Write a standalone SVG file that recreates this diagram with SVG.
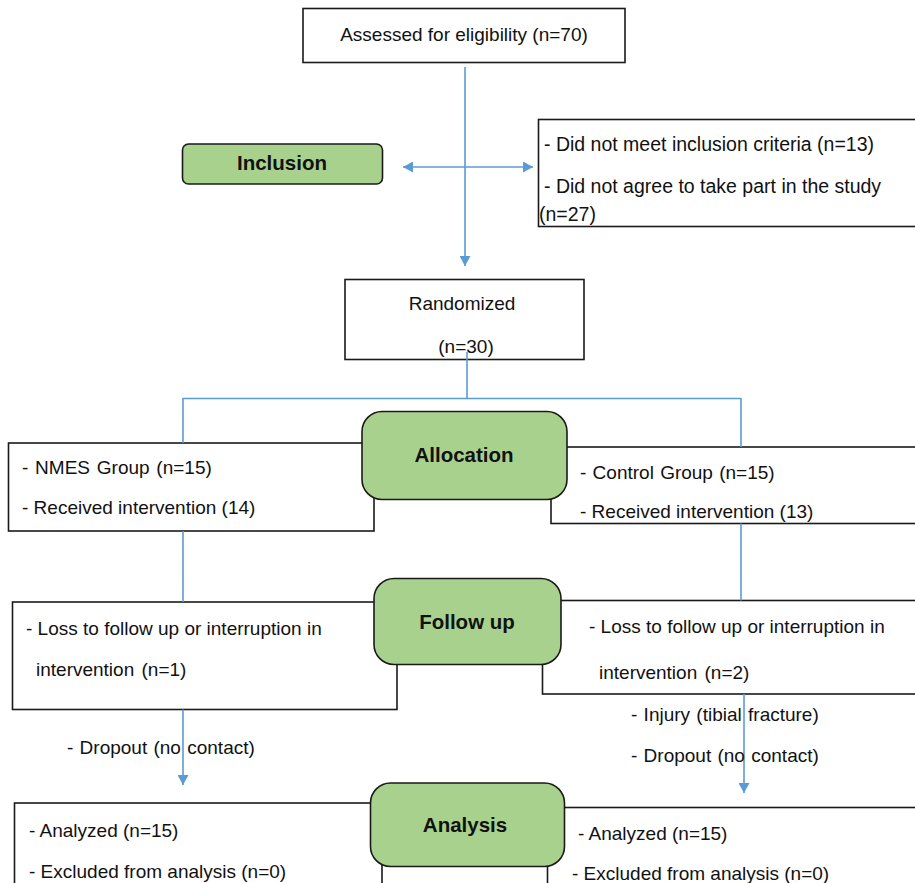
<svg xmlns="http://www.w3.org/2000/svg" width="915" height="883" viewBox="0 0 915 883">
<style>
.box{fill:#ffffff;stroke:#1a1a1a;stroke-width:1.6}
.grn{fill:#a9d18e;stroke:#1a1a1a;stroke-width:1.6}
.t{font-family:"Liberation Sans",Arial,sans-serif;font-size:19px;fill:#111111}
.b{font-family:"Liberation Sans",Arial,sans-serif;font-weight:bold;font-size:20.5px;fill:#111111;text-anchor:middle}
.m{text-anchor:middle}
.c{stroke:#5b9bd5;stroke-width:1.6;fill:none}
</style>
<defs>
<marker id="ah" markerUnits="userSpaceOnUse" markerWidth="11" markerHeight="11" refX="10" refY="5.5" orient="auto-start-reverse" viewBox="0 0 11 11">
<path d="M0,0 L10,5.5 L0,11 z" fill="#5b9bd5"/>
</marker>
</defs>
<rect width="915" height="883" fill="#ffffff"/>

<g id="assessed">
<rect class="box" x="303" y="8.5" width="322" height="54"/>
<text class="t m" x="464" y="41">Assessed for eligibility (n=70)</text>
</g>

<g id="excluded">
<rect class="box" x="538.5" y="119.5" width="390" height="107"/>
<text class="t" x="544" y="151" style="font-size:19.5px">- Did not meet inclusion criteria (n=13)</text>
<text class="t" x="544" y="193" style="font-size:19.5px">- Did not agree to take part in the study</text>
<text class="t" x="539" y="221" style="font-size:19.5px">(n=27)</text>
</g>

<g id="inclusion">
<rect class="grn" x="182.5" y="144" width="200" height="40" rx="6"/>
<text class="b" x="282" y="170">Inclusion</text>
</g>

<g id="randomized">
<rect class="box" x="345" y="279.5" width="239" height="80"/>
<text class="t m" x="462" y="310">Randomized</text>
<text class="t m" x="466" y="353">(n=30)</text>
</g>

<g id="nmes">
<rect class="box" x="8.5" y="443" width="365.5" height="88"/>
<text class="t" x="22" y="474" style="word-spacing:1.5px">- NMES Group (n=15)</text>
<text class="t" x="22" y="514">- Received intervention (14)</text>
</g>

<g id="control">
<rect class="box" x="551" y="447" width="380" height="76.5"/>
<text class="t" x="580" y="479" style="word-spacing:1px">- Control Group (n=15)</text>
<text class="t" x="580" y="518">- Received intervention (13)</text>
</g>

<g id="allocation">
<rect class="grn" x="362" y="411.5" width="205" height="88" rx="20"/>
<text class="b" x="464" y="462">Allocation</text>
</g>

<g id="loss-nmes">
<rect class="box" x="12.5" y="602" width="384.5" height="107.5"/>
<text class="t" x="26" y="635">- Loss to follow up or interruption in</text>
<text class="t" x="36" y="676" style="word-spacing:2px">intervention (n=1)</text>
</g>

<g id="loss-control">
<rect class="box" x="542.5" y="600.5" width="390" height="93.5"/>
<text class="t" x="589" y="633">- Loss to follow up or interruption in</text>
<text class="t" x="599" y="679" style="word-spacing:2px">intervention (n=2)</text>
</g>

<g id="followup">
<rect class="grn" x="374" y="578.5" width="187" height="86" rx="20"/>
<text class="b" x="467" y="629">Follow up</text>
</g>

<g id="analysis-nmes">
<rect class="box" x="14.5" y="803" width="367.5" height="100"/>
<text class="t" x="29" y="837">- Analyzed (n=15)</text>
<text class="t" x="29" y="878">- Excluded from analysis (n=0)</text>
</g>

<g id="analysis-control">
<rect class="box" x="547.5" y="807.5" width="390" height="100"/>
<text class="t" x="578" y="840">- Analyzed (n=15)</text>
<text class="t" x="572" y="880">- Excluded from analysis (n=0)</text>
</g>

<g id="analysis">
<rect class="grn" x="370.5" y="783" width="194" height="83.5" rx="20"/>
<text class="b" x="465" y="832">Analysis</text>
</g>

<g id="connectors">
<path class="c" d="M465,67 V266" marker-end="url(#ah)"/>
<path class="c" d="M403,167 H533" marker-start="url(#ah)" marker-end="url(#ah)"/>
<path class="c" d="M467,352 V398.5 M183,398.5 H741 M183,398 V443 M741,398 V447"/>
<path class="c" d="M183,531 V602 M741,523.5 V600.5"/>
<path class="c" d="M183,709.5 V785" marker-end="url(#ah)"/>
<path class="c" d="M744,694 V793" marker-end="url(#ah)"/>
</g>

<g id="notes">
<text class="t" x="67" y="754" style="word-spacing:1px">- Dropout (no contact)</text>
<text class="t" x="631" y="721" style="word-spacing:1px">- Injury (tibial fracture)</text>
<text class="t" x="631" y="762" style="word-spacing:1px">- Dropout (no contact)</text>
</g>
</svg>
